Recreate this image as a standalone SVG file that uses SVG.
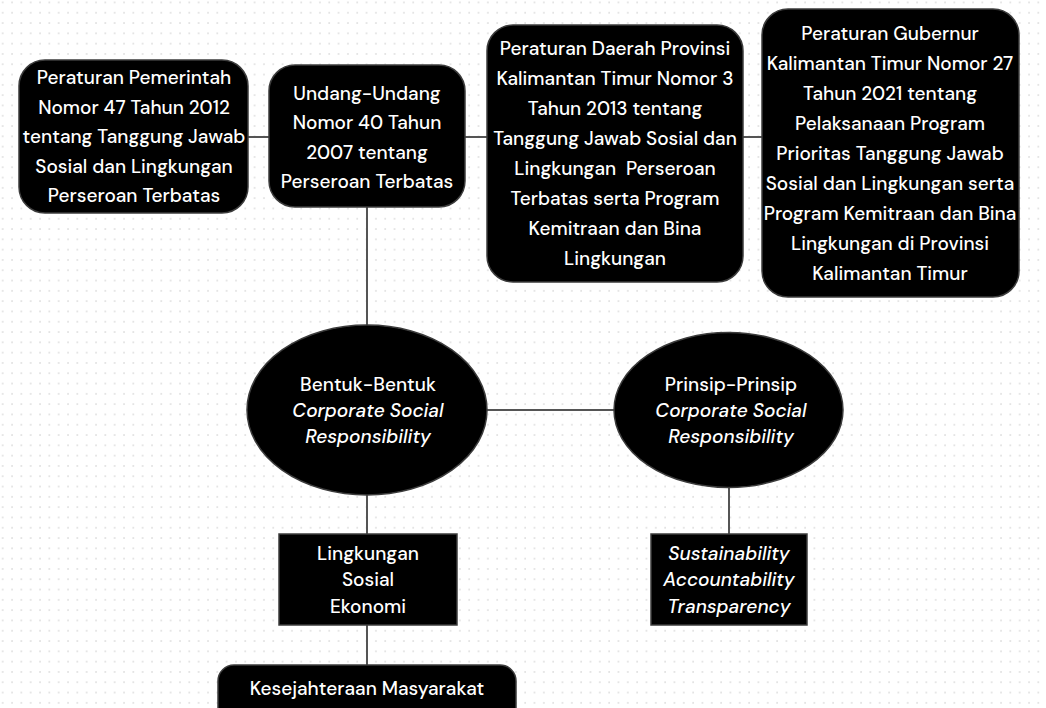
<svg xmlns="http://www.w3.org/2000/svg" width="1046" height="708" viewBox="0 0 1046 708">
<defs>
<pattern id="dots" x="1.7" y="1.5" width="9.33" height="10.3" patternUnits="userSpaceOnUse">
<circle cx="1" cy="1" r="0.9" fill="#dcdcdc"/>
</pattern>
</defs>
<style>
.box{fill:#000;stroke:#3c3c3c;stroke-width:1.5}
.t{font-family:"DM Sans",Inter,"Noto Sans",sans-serif;font-size:19px;font-weight:500;fill:#fff;text-anchor:middle}
.i{font-style:italic}
.c{stroke:#555;stroke-width:2;fill:none}
</style>
<rect width="1046" height="708" fill="#fff"/>
<rect width="1046" height="708" fill="url(#dots)"/>
<g id="connectors">
<line class="c" x1="247" y1="137" x2="270" y2="137"/>
<line class="c" x1="465" y1="137" x2="488" y2="137"/>
<line class="c" x1="743" y1="137" x2="762" y2="137"/>
<line class="c" x1="367" y1="206" x2="367" y2="326"/>
<line class="c" x1="486" y1="410" x2="615" y2="410"/>
<line class="c" x1="367" y1="494" x2="367" y2="534"/>
<line class="c" x1="729" y1="486" x2="729" y2="534"/>
<line class="c" x1="367" y1="625" x2="367" y2="665"/>
</g>
<g id="pp47">
<rect class="box" x="19" y="60" width="229" height="153" rx="26"/>
<text class="t" x="134" y="84">Peraturan Pemerintah</text>
<text class="t" x="134" y="113.5">Nomor 47 Tahun 2012</text>
<text class="t" x="134" y="143">tentang Tanggung Jawab</text>
<text class="t" x="134" y="172.5">Sosial dan Lingkungan</text>
<text class="t" x="134" y="202">Perseroan Terbatas</text>
</g>
<g id="uu40">
<rect class="box" x="269" y="65" width="196" height="142" rx="26"/>
<text class="t" x="367" y="99.5">Undang-Undang</text>
<text class="t" x="367" y="129">Nomor 40 Tahun</text>
<text class="t" x="367" y="158.5">2007 tentang</text>
<text class="t" x="367" y="188">Perseroan Terbatas</text>
</g>
<g id="perda3">
<rect class="box" x="487" y="25" width="256" height="257" rx="26"/>
<text class="t" x="615" y="55">Peraturan Daerah Provinsi</text>
<text class="t" x="615" y="85">Kalimantan Timur Nomor 3</text>
<text class="t" x="615" y="115">Tahun 2013 tentang</text>
<text class="t" x="615" y="145">Tanggung Jawab Sosial dan</text>
<text class="t" x="615" y="175" xml:space="preserve">Lingkungan  Perseroan</text>
<text class="t" x="615" y="205">Terbatas serta Program</text>
<text class="t" x="615" y="235">Kemitraan dan Bina</text>
<text class="t" x="615" y="265">Lingkungan</text>
</g>
<g id="pergub27">
<rect class="box" x="762" y="9" width="257" height="288" rx="26"/>
<text class="t" x="890" y="40">Peraturan Gubernur</text>
<text class="t" x="890" y="70">Kalimantan Timur Nomor 27</text>
<text class="t" x="890" y="100">Tahun 2021 tentang</text>
<text class="t" x="890" y="130">Pelaksanaan Program</text>
<text class="t" x="890" y="160">Prioritas Tanggung Jawab</text>
<text class="t" x="890" y="190">Sosial dan Lingkungan serta</text>
<text class="t" x="890" y="220">Program Kemitraan dan Bina</text>
<text class="t" x="890" y="250">Lingkungan di Provinsi</text>
<text class="t" x="890" y="280">Kalimantan Timur</text>
</g>
<g id="bentuk">
<ellipse class="box" cx="367" cy="410" rx="120" ry="85"/>
<text class="t" x="368" y="390.5">Bentuk-Bentuk</text>
<text class="t i" x="368" y="416.5">Corporate Social</text>
<text class="t i" x="368" y="442.5">Responsibility</text>
</g>
<g id="prinsip">
<ellipse class="box" cx="728.5" cy="410" rx="114.5" ry="77.5"/>
<text class="t" x="731" y="390.5">Prinsip-Prinsip</text>
<text class="t i" x="731" y="416.5">Corporate Social</text>
<text class="t i" x="731" y="442.5">Responsibility</text>
</g>
<g id="bentuk-list">
<rect class="box" x="279" y="534" width="178" height="91"/>
<text class="t" x="368" y="559.5">Lingkungan</text>
<text class="t" x="368" y="586">Sosial</text>
<text class="t" x="368" y="612.5">Ekonomi</text>
</g>
<g id="prinsip-list">
<rect class="box" x="651" y="534" width="156" height="91"/>
<text class="t i" x="729" y="559.5">Sustainability</text>
<text class="t i" x="729" y="586">Accountability</text>
<text class="t i" x="729" y="612.5">Transparency</text>
</g>
<g id="kesejahteraan">
<rect class="box" x="218" y="665" width="298" height="60" rx="16"/>
<text class="t" x="367" y="694.5">Kesejahteraan Masyarakat</text>
</g>
</svg>
